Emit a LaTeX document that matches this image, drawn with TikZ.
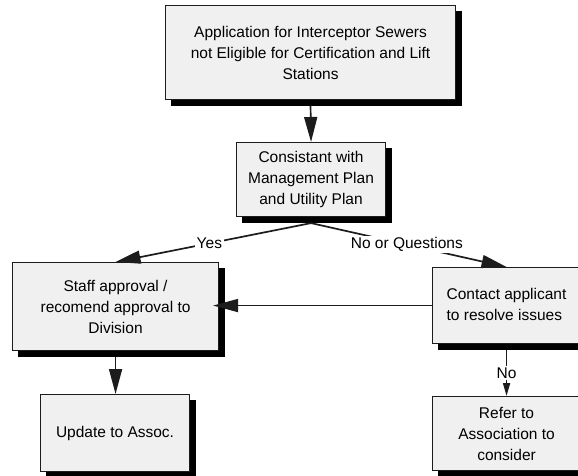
\documentclass[tikz,border=0pt]{standalone}
\usepackage{fontspec}
\setmainfont{Liberation Sans}
\usetikzlibrary{arrows.meta,backgrounds}
\definecolor{boxfill}{HTML}{F0F0F0}
\definecolor{ink}{HTML}{1C1C1C}
\begin{document}
\begin{tikzpicture}[x=1pt,y=-1pt,
  box/.style={draw=ink, line width=1.1pt, fill=boxfill, inner sep=0pt, anchor=north west,
    align=center, font=\fontsize{15.5}{21}\selectfont},
  shade/.style={fill=black},
  conn/.style={line width=1.7pt, draw=ink},
  arr/.style={conn, -{Triangle[length=25pt,width=13pt]}},
  smallarr/.style={conn, -{Triangle[length=13pt,width=7pt]}},
  lbl/.style={fill=white, inner sep=1.5pt, font=\fontsize{15.5}{18}\selectfont}]
\useasboundingbox (0,0) rectangle (578,476);
\clip (0,0) rectangle (578,476);

\node[box, minimum width=290pt, minimum height=94pt] (top) at (165,5)
  {Application for Interceptor Sewers\\not Eligible for Certification and Lift\\Stations};
\node[box, minimum width=149pt, minimum height=74pt] (cons) at (236,142)
  {Consistant with\\Management Plan\\and Utility Plan};
\node[box, minimum width=206pt, minimum height=88pt] (staff) at (12,262)
  {Staff approval /\\recomend approval to\\Division};
\node[box, minimum width=148pt, minimum height=76pt] (contact) at (432,267)
  {\begin{tabular}{@{}l@{}}Contact applicant\\to resolve issues\end{tabular}};
\node[box, minimum width=149pt, minimum height=77pt] (update) at (40,394)
  {Update to Assoc.};
\node[box, minimum width=148pt, minimum height=74pt] (refer) at (432,396)
  {Refer to\\Association to\\consider};

\begin{scope}[on background layer]
  \clip (0,0) rectangle (578,476);
  \foreach \n in {top,cons,staff,contact,update,refer}
    \fill[shade] ([xshift=6pt,yshift=-6pt]\n.south west) rectangle ([xshift=6pt,yshift=-6pt]\n.north east);
\end{scope}

\draw[arr] ([yshift=-6pt]top.south) -- (cons.north);
\draw[arr] ([yshift=-6pt]cons.south) -- node[lbl, pos=0.52] {Yes} (staff.north);
\draw[arr] ([yshift=-6pt]cons.south) -- node[lbl, pos=0.49] {No or Questions} (contact.north);
\draw[arr, shorten >=-6pt] (contact.west) -- (contact.west -| staff.east);
\draw[arr] ([yshift=-6pt]staff.south) -- (staff.south |- update.north);
\draw[smallarr] ([yshift=-6pt]contact.south) -- node[lbl, pos=0.5] {No} (refer.north);
\end{tikzpicture}
\end{document}
